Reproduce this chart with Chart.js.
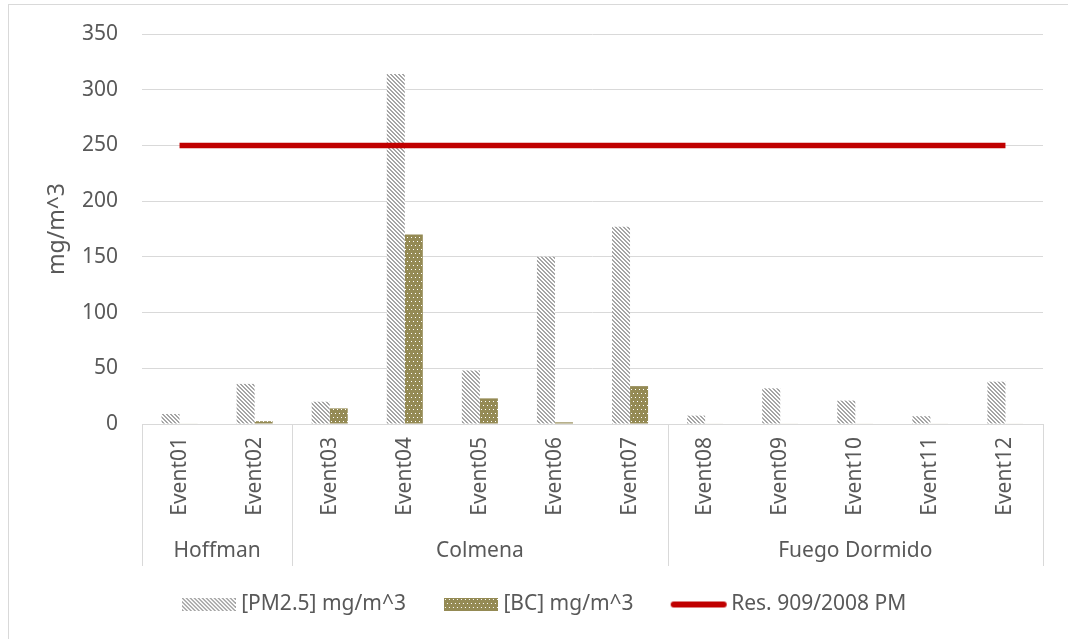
<!DOCTYPE html>
<html>
<head>
<meta charset="utf-8">
<script src="https://cdn.jsdelivr.net/npm/chart.js@4.4.1/dist/chart.umd.min.js"></script>
<style>
  html, body { margin: 0; padding: 0; background: #fff; }
  #wrap { width: 1068px; height: 639px; position: relative; }
</style>
</head>
<body>
<div id="wrap"><canvas id="chart" width="1068" height="639"></canvas></div>
<script>
// chart data
const events = ['Event01','Event02','Event03','Event04','Event05','Event06','Event07','Event08','Event09','Event10','Event11','Event12'];
const groupNames = ['Hoffman', 'Colmena', 'Fuego Dormido'];
const groupSizes = [2, 5, 5];
const pm25 = [9, 36, 20, 314, 48, 150, 177, 7.5, 32, 21, 7, 38];
const bc = [0.5, 2.5, 14, 170, 23, 1.5, 34, 0.4, 0.4, 0.4, 0.4, 0.4];
const limit = [250, 250, 250, 250, 250, 250, 250, 250, 250, 250, 250, 250];

const textColor = '#595959';
const fontFamily = '"Noto Sans", "Open Sans", sans-serif';

function stripePattern(){
    let c = document.createElement('canvas');
    c.width = 4; c.height = 4;
    let g = c.getContext('2d');
    g.fillStyle = '#ffffff';
    g.fillRect(0, 0, 4, 4);
    g.fillStyle = '#a5a5a5';
    for (let y = 0; y < 4; y++) {
        for (let x = 0; x < 4; x++) {
            if (((x - y) % 4 + 4) % 4 < 2) g.fillRect(x, y, 1, 1);
        }
    }
    return g.createPattern(c, 'repeat');
}

function dotPattern(){
    let c = document.createElement('canvas');
    c.width = 4; c.height = 8;
    let g = c.getContext('2d');
    g.fillStyle = '#948a54';
    g.fillRect(0, 0, 4, 8);
    g.fillStyle = '#ffffff';
    g.fillRect(1, 1, 1, 1);
    g.fillRect(3, 5, 1, 1);
    return g.createPattern(c, 'repeat');
}

const pmFill = stripePattern();
const bcFill = dotPattern();

// small legend swatches
function swatch(fill){
    let c = document.createElement('canvas');
    c.width = 54; c.height = 13;
    let g = c.getContext('2d');
    g.fillStyle = fill;
    g.fillRect(0, 0, 54, 13);
    return c;
}
function lineSwatch(){
    let c = document.createElement('canvas');
    c.width = 58; c.height = 8;
    let g = c.getContext('2d');
    g.strokeStyle = '#c00000';
    g.lineWidth = 6;
    g.lineCap = 'round';
    g.beginPath();
    g.moveTo(4, 4);
    g.lineTo(54, 4);
    g.stroke();
    return c;
}
const legendIcons = [swatch(pmFill), swatch(bcFill), lineSwatch()];

// draws group separators + group names under the event labels, and the outer frame
const groupAxis = {
    id: 'groupAxis',
    afterLayout(chart){
        // nudge legend a bit right, like the original
        chart.legend.left += 5;
        chart.legend.right += 5;
    },
    afterDraw(chart){
        const ctx = chart.ctx;
        const x = chart.scales.x;
        const area = chart.chartArea;
        const step = x.width / events.length;
        const bottom = area.bottom + 142;
        ctx.save();
        ctx.strokeStyle = '#d9d9d9';
        ctx.lineWidth = 1;
        ctx.strokeRect(8.5, 4.5, 1200, 800);
        let idx = 0;
        let edges = [x.left];
        groupSizes.forEach(n => { idx += n; edges.push(x.left + idx * step); });
        edges.forEach(px => {
            ctx.beginPath();
            ctx.moveTo(Math.round(px) + 0.5, area.bottom);
            ctx.lineTo(Math.round(px) + 0.5, bottom);
            ctx.stroke();
        });
        ctx.fillStyle = textColor;
        ctx.font = '21px ' + fontFamily;
        ctx.textAlign = 'center';
        ctx.textBaseline = 'middle';
        groupNames.forEach((name, i) => {
            ctx.fillText(name, (edges[i] + edges[i + 1]) / 2, area.bottom + 127);
        });
        ctx.restore();
    }
};

new Chart(document.getElementById('chart'), {
    data: {
        labels: events,
        datasets: [
            {
                type: 'bar',
                label: '[PM2.5] mg/m^3',
                data: pm25,
                backgroundColor: pmFill,
                borderWidth: 0,
                categoryPercentage: 0.48,
                barPercentage: 1,
                order: 1
            },
            {
                type: 'bar',
                label: '[BC] mg/m^3',
                data: bc,
                backgroundColor: bcFill,
                borderWidth: 0,
                categoryPercentage: 0.48,
                barPercentage: 1,
                order: 1
            },
            {
                type: 'line',
                label: 'Res. 909/2008 PM',
                data: limit,
                borderColor: '#c00000',
                backgroundColor: '#c00000',
                borderWidth: 5.5,
                pointRadius: 0,
                fill: false,
                order: 0
            }
        ]
    },
    options: {
        responsive: false,
        animation: false,
        layout: { padding: { left: 40, right: 25, top: 34, bottom: 14 } },
        scales: {
            x: {
                grid: { display: false },
                border: { color: '#d9d9d9' },
                ticks: {
                    color: textColor,
                    font: { family: fontFamily, size: 21 },
                    minRotation: 90,
                    maxRotation: 90,
                    padding: 5,
                    autoSkip: false
                },
                afterFit(scale){ scale.height = 127; }
            },
            y: {
                min: 0,
                max: 350,
                ticks: {
                    stepSize: 50,
                    color: textColor,
                    font: { family: fontFamily, size: 21 },
                    padding: 24
                },
                grid: { color: '#d9d9d9', drawTicks: false },
                border: { display: false },
                title: {
                    display: true,
                    text: 'mg/m^3',
                    color: textColor,
                    font: { family: fontFamily, size: 23 },
                    padding: 4
                },
                afterFit(scale){
                    scale.width = 102;
                    scale.paddingTop = 0;
                    scale.paddingBottom = 0;
                }
            }
        },
        plugins: {
            tooltip: { enabled: false },
            legend: {
                position: 'bottom',
                labels: {
                    color: textColor,
                    font: { family: fontFamily, size: 21 },
                    usePointStyle: true,
                    pointStyleWidth: 44,
                    boxHeight: 13,
                    padding: 43,
                    sort: (a, b) => a.datasetIndex - b.datasetIndex,
                    generateLabels(chart){
                        const items = Chart.defaults.plugins.legend.labels.generateLabels(chart);
                        items.forEach(it => {
                            it.pointStyle = legendIcons[it.datasetIndex];
                            it.lineWidth = 0;
                        });
                        return items;
                    }
                }
            }
        }
    },
    plugins: [groupAxis]
});
</script>
</body>
</html>
